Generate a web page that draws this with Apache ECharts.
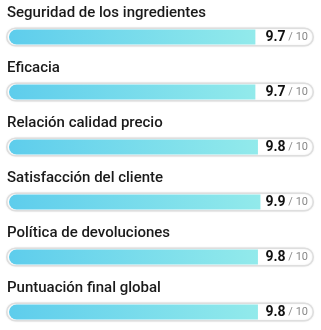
<!DOCTYPE html>
<html>
<head>
<meta charset="utf-8" />
<script src="https://cdn.jsdelivr.net/npm/echarts@6/dist/echarts.min.js"></script>
<style>
	html,
	body {
		margin: 0;
		padding: 0;
		background: #ffffff;
	}
	#chart {
		width: 321px;
		height: 330px;
	}
</style>
</head>
<body>
<div id="chart"></div>
<script>
// data
const categories = [
	"Seguridad de los ingredientes",
	"Eficacia",
	"Relación calidad precio",
	"Satisfacción del cliente",
	"Política de devoluciones",
	"Puntuación final global",
];
const scores = [9.7, 9.7, 9.8, 9.9, 9.8, 9.8];
const maxScore = 10;

const myEcharts = echarts.init(document.getElementById("chart"));

const option = {
	animation: false,
	grid: [
		// track
		{ left: 6, right: 7, top: 37, bottom: 18 },
		// fill
		{ left: 9, right: 58, top: 37, bottom: 18 },
	],
	xAxis: [
		{ gridIndex: 0, type: "value", min: 0, max: 1, show: false },
		{ gridIndex: 1, type: "value", min: 0, max: maxScore, show: false },
	],
	yAxis: [
		{
			gridIndex: 0,
			type: "category",
			data: categories,
			inverse: true,
			boundaryGap: false,
			axisLine: { show: false },
			axisTick: { show: false },
			axisLabel: { show: false },
		},
		{
			gridIndex: 1,
			type: "category",
			data: categories,
			inverse: true,
			boundaryGap: false,
			position: "right",
			z: 10,
			axisLine: { show: false },
			axisTick: { show: false },
			axisLabel: {
				show: true,
				align: "right",
				margin: 45,
				formatter: (val, idx) => "{v|" + scores[idx].toFixed(1) + "}{d| / " + maxScore + "}",
				rich: {
					v: { fontFamily: "Roboto", fontSize: 14, fontWeight: "bold", color: "#111111" },
					d: { fontFamily: "Roboto", fontSize: 11, color: "#888888" },
				},
			},
		},
	],
	series: [
		{
			type: "bar",
			xAxisIndex: 0,
			yAxisIndex: 0,
			barWidth: 19,
			z: 1,
			data: categories.map(() => 1),
			itemStyle: {
				color: "#ffffff",
				borderColor: "#dedede",
				borderWidth: 1.5,
				borderRadius: 10,
				shadowColor: "rgba(0,0,0,0.08)",
				shadowBlur: 2,
			},
			label: {
				show: true,
				position: [1, -22],
				formatter: "{b}",
				fontFamily: "Roboto",
				fontSize: 15,
				fontWeight: 500,
				color: "#1a1a1a",
			},
			silent: true,
		},
		{
			type: "bar",
			xAxisIndex: 1,
			yAxisIndex: 1,
			barWidth: 15,
			z: 2,
			data: scores,
			itemStyle: {
				color: new echarts.graphic.LinearGradient(0, 0, 1, 0, [
					{ offset: 0, color: "#5ecdec" },
					{ offset: 1, color: "#92eaeb" },
				]),
				borderRadius: [8, 0, 0, 8],
			},
		},
	],
};

myEcharts.setOption(option);
</script>
</body>
</html>
